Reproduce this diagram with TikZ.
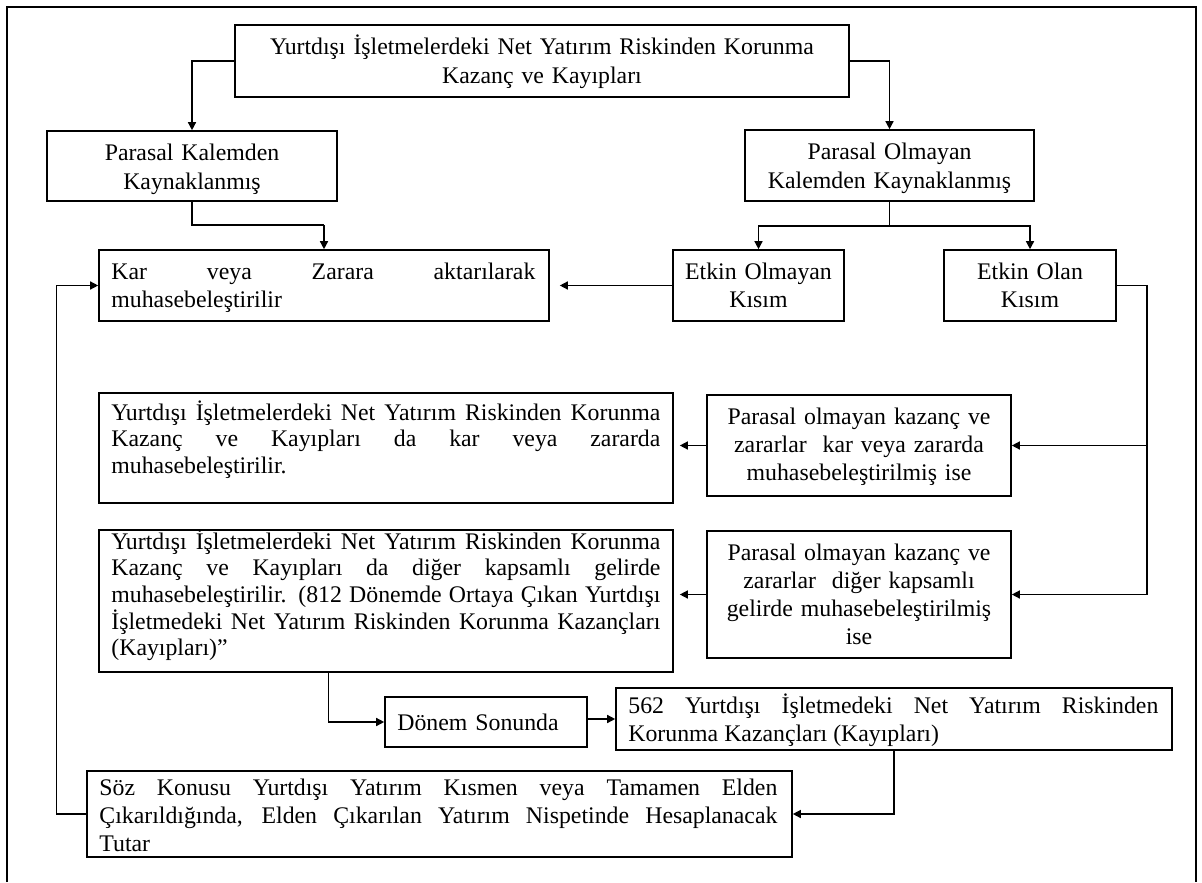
\documentclass[tikz,border=0pt]{standalone}
\usepackage{fontspec}
\setmainfont{Liberation Serif}
\usetikzlibrary{arrows.meta}
\begin{document}
\begin{tikzpicture}[x=0.5pt,y=-0.5pt,
  box/.style={draw, line width=0.8pt, inner sep=0pt},
  txt/.style={inner sep=0pt, font=\fontsize{11.9}{14.15}\selectfont},
  tight/.style={font=\fontsize{11.9}{13.35}\selectfont},
  tc/.style={txt, align=center, anchor=base},
  tj/.style={txt, align=justify, anchor=base west},
  tl/.style={txt, align=left, anchor=base west},
  arr/.style={-{Triangle[length=4pt,width=4pt]}, line width=0.7pt},
  link/.style={line width=0.7pt}]
\useasboundingbox (0,0) rectangle (1202,882);
% outer frame, open at the bottom
\draw[line width=1pt] (7,882) -- (7,7) -- (1196,7) -- (1196,882);

% boxes
\node[box, minimum width=307pt,   minimum height=36pt]   (top)  at (542,61)      {};
\node[box, minimum width=145pt,   minimum height=35pt]   (pk)   at (192,166)     {};
\node[box, minimum width=144.5pt, minimum height=35.5pt] (po)   at (889.5,165.5) {};
\node[box, minimum width=225pt,   minimum height=35.5pt] (kar)  at (324,285.5)   {};
\node[box, minimum width=85.5pt,  minimum height=35.5pt] (eo)   at (758.5,285.5) {};
\node[box, minimum width=86pt,    minimum height=35.5pt] (el)   at (1030,285.5)  {};
\node[box, minimum width=287pt,   minimum height=55pt]   (A)    at (386,448)     {};
\node[box, minimum width=152pt,   minimum height=50.5pt] (B)    at (859,445.5)   {};
\node[box, minimum width=287pt,   minimum height=71pt]   (C)    at (386,601)     {};
\node[box, minimum width=152pt,   minimum height=63.5pt] (D)    at (859,594.5)   {};
\node[box, minimum width=101pt,   minimum height=25pt]   (ds)   at (486,722)     {};
\node[box, minimum width=278pt,   minimum height=31pt]   (n562) at (894,719)     {};
\node[box, minimum width=352.5pt, minimum height=43pt]   (sk)   at (439.5,814)   {};

% box texts, placed by their first baseline
\node[tc, text width=300pt] (topT) at (542,55)
  {Yurtdışı İşletmelerdeki Net Yatırım Riskinden Korunma\\Kazanç ve Kayıpları};
\node[tc, text width=140pt] (pkT) at (192,161)
  {Parasal Kalemden\\Kaynaklanmış};
\node[tc, text width=140pt] (poT) at (889.5,160)
  {Parasal Olmayan\\Kalemden Kaynaklanmış};
\node[tj, text width=212pt] (karT) at (111,279)
  {Kar veya Zarara aktarılarak\linebreak muhasebeleştirilir};
\node[tc, text width=80pt] (eoT) at (758.5,279)
  {Etkin Olmayan\\Kısım};
\node[tc, text width=80pt] (elT) at (1030,279)
  {Etkin Olan\\Kısım};
\node[tj, tight, text width=274.5pt] (AT) at (111,420)
  {Yurtdışı İşletmelerdeki Net Yatırım Riskinden Korunma\linebreak
   Kazanç ve Kayıpları da kar veya zararda\linebreak
   muhasebeleştirilir.};
\node[tc, text width=148pt] (BT) at (859,424)
  {Parasal olmayan kazanç ve\\zararlar\ \ kar veya zararda\\muhasebeleştirilmiş ise};
\node[tj, tight, text width=274.5pt] (CT) at (111,549)
  {Yurtdışı İşletmelerdeki Net Yatırım Riskinden Korunma\linebreak
   Kazanç ve Kayıpları da diğer kapsamlı gelirde\linebreak
   muhasebeleştirilir. (812 Dönemde Ortaya Çıkan Yurtdışı\linebreak
   İşletmedeki Net Yatırım Riskinden Korunma Kazançları\linebreak
   (Kayıpları)”};
\node[tc, text width=148pt] (DT) at (859,560)
  {Parasal olmayan kazanç ve\\zararlar\ \ diğer kapsamlı\\gelirde muhasebeleştirilmiş\\ise};
\node[tl, text width=90pt] (dsT) at (397,730)
  {Dönem Sonunda};
\node[tj, text width=265pt] (n562T) at (628,713)
  {562 Yurtdışı İşletmedeki Net Yatırım Riskinden\linebreak Korunma Kazançları (Kayıpları)};
\node[tj, text width=339pt] (skT) at (99,795)
  {Söz Konusu Yurtdışı Yatırım Kısmen veya Tamamen Elden\linebreak
   Çıkarıldığında, Elden Çıkarılan Yatırım Nispetinde Hesaplanacak\linebreak
   Tutar};

% junction points of the elbow connectors
\coordinate (j1) at (324,225);
\coordinate (j2) at (889.5,226);
\coordinate (j3) at (1147,594.5);

% connectors
\draw[arr] (top.west) -| (pk.north);
\draw[arr] (top.east) -| (po.north);
\draw[link] (pk.south) |- (j1);
\draw[arr] (j1) -- (kar.north);
\draw[link] (po.south) -- (j2);
\draw[arr] (j2) -| (eo.north);
\draw[arr] (j2) -| (el.north);
\draw[arr, shorten >=5pt] (eo.west) -- (eo.west -| kar.east);
\draw[link] (el.east) -| (j3);
\draw[arr] (B.east -| j3) -- (B.east);
\draw[arr] (j3) -- (D.east);
\draw[arr, shorten >=3pt] (B.west) -- (B.west -| A.east);
\draw[arr, shorten >=3pt] (D.west) -- (D.west -| C.east);
\draw[arr] ([xshift=115pt]C.south west) |- (ds.west);
\draw[arr] (ds.east |- n562.west) -- (n562.west);
\draw[arr] (n562.south) |- (sk.east);
\draw[arr] (sk.west) -| ([xshift=-21pt]kar.west) -- (kar.west);
\end{tikzpicture}
\end{document}
